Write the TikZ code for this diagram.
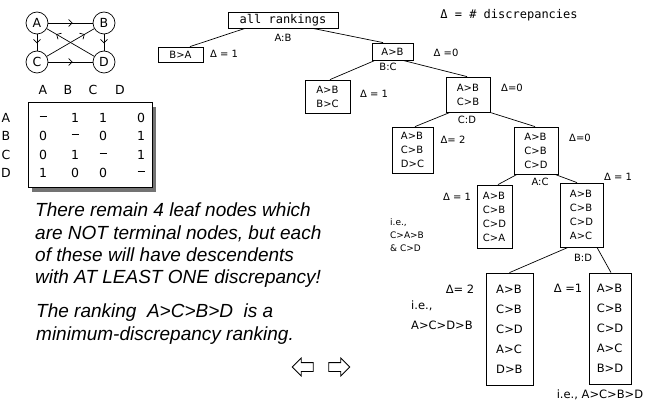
\documentclass[tikz,border=0pt]{standalone}
\usepackage{fontspec}
\setmainfont{DejaVu Sans}
\newfontfamily\notefont{Liberation Sans}
\newfontfamily\plainmono{DejaVu Sans Mono}
\usetikzlibrary{arrows.meta,calc,decorations.markings,shadows,shapes.arrows}
\newcommand{\boxsize}{\fontsize{10}{14}\selectfont}
\newcommand{\leafsize}{\fontsize{11.5}{20}\selectfont}
\newcommand{\cellsize}{\fontsize{12.5}{12.5}\selectfont}
\newcommand{\notesize}{\fontsize{19}{22.3}\selectfont}
\newcommand{\monosize}{\plainmono\fontsize{12}{12}\selectfont}
\newcommand{\nodash}{\rule[3.5pt]{7pt}{.9pt}}
\tikzset{
 every node/.append style={font=\boxsize,inner sep=1pt},
 rank/.style={draw,fill=white,line width=.8pt,align=left,inner sep=2pt},
 leaf/.style={rank,font=\leafsize},
 word/.style={inner sep=1pt},
 big/.style={font=\leafsize},
 cell/.style={font=\cellsize},
 branch/.style={line width=.7pt},
 vertex/.style={draw,circle,minimum size=22pt,inner sep=0pt,font=\fontsize{12.5}{12.5}\selectfont,line width=.7pt},
 toward/.style={line width=.7pt,postaction={decorate},decoration={markings,mark=at position #1 with {\arrow{Straight Barb[length=3.5pt,width=7pt]}}}},
 toward/.default=.55,
 note/.style={font=\notefont\itshape\notesize,align=left,anchor=north west,inner sep=0pt},
 nav/.style={draw,single arrow,line width=.8pt,minimum height=21pt,single arrow head extend=4.5pt,inner sep=4pt},
}

\begin{document}
\begin{tikzpicture}[x=1pt,y=-1pt]

\useasboundingbox (0,0) rectangle (655,406);
% small tournament
\node[vertex] (va) at (37,23) {A};
\node[vertex] (vb) at (104,23) {B};
\node[vertex] (vc) at (37,62) {C};
\node[vertex] (vd) at (104,62) {D};
\draw[toward] (va) -- (vb); \draw[toward] (va) -- (vc);
\draw[toward] (vb) -- (vd); \draw[toward] (vc) -- (vd);
\draw[toward=.8] (vc) -- (vb); \draw[toward=.8] (vd) -- (va);

% discrepancy matrix
\node[draw,fill=white,line width=.8pt,minimum width=124pt,minimum height=85pt,drop shadow={shadow xshift=4pt,shadow yshift=-5pt,fill=black!55,opacity=1}] (grid) at (90,144.5) {};
\node[cell] (ha) at (43,90) {A}; \node[cell] (hb) at (68,90) {B}; \node[cell] (hc) at (93,90) {C}; \node[cell] (hd) at (120,90) {D};
\node[cell] (ra) at (6,118) {A}; \node[cell] (rb) at (6,136) {B}; \node[cell] (rc) at (6,155) {C}; \node[cell] (rd) at (6,173) {D};
\node[cell] (aa) at (43,118) {\nodash}; \node[cell] (ab) at (75,118) {1}; \node[cell] (ac) at (103,118) {1}; \node[cell] (ad) at (141,118) {0};
\node[cell] (ba) at (43,136) {0}; \node[cell] (bb) at (75,136) {\nodash}; \node[cell] (bc) at (103,136) {0}; \node[cell] (bd) at (141,136) {1};
\node[cell] (ca) at (43,155) {0}; \node[cell] (cb) at (75,155) {1}; \node[cell] (cc) at (103,155) {\nodash}; \node[cell] (cd) at (141,155) {1};
\node[cell] (da) at (43,173) {1}; \node[cell] (db) at (75,173) {0}; \node[cell] (dc) at (103,173) {0}; \node[cell] (dd) at (141,173) {\nodash};

\node[note] (remain) at (35,203) {There remain 4 leaf nodes which\\are NOT terminal nodes, but each\\of these will have descendents\\with AT LEAST ONE discrepancy!};
\node[note] (minimum) at (36,304) {The ranking\ \ A>C>B>D\ \ is a\\minimum-discrepancy ranking.};
\node[nav,shape border rotate=180] (back) at (305,367) {};
\node[nav] (fwd) at (337,367) {};

% search tree
\node[word,font=\monosize] (legend) at (509,15) {Δ = \# discrepancies};
\node[rank,font=\monosize,minimum width=110pt,minimum height=16pt] (all) at (283,20) {all rankings};
\node[rank,minimum width=45pt,minimum height=15pt] (tba) at (180.5,54.5) {B>A};
\node[rank,minimum width=41pt,minimum height=17pt] (tab) at (392.5,51.5) {A>B};
\node[rank,minimum width=45pt,minimum height=33pt] (tbc) at (327.5,96.5) {A>B\\B>C};
\node[rank,minimum width=44pt,minimum height=35pt] (tcb) at (468,94.5) {A>B\\C>B};
\node[rank,minimum width=41pt,minimum height=46pt] (tdc) at (412.5,150) {A>B\\C>B\\D>C};
\node[rank,minimum width=44pt,minimum height=47pt] (tcd) at (536,150.5) {A>B\\C>B\\C>D};
\node[rank,minimum width=35pt,minimum height=63pt] (tca) at (494.5,216.5) {A>B\\C>B\\C>D\\C>A};
\node[rank,minimum width=43pt,minimum height=64pt] (tac) at (581.5,215) {A>B\\C>B\\C>D\\A>C};
\node[leaf,minimum width=47pt,minimum height=112pt] (tdb) at (509.5,329) {A>B\\C>B\\C>D\\A>C\\D>B};
\node[leaf,minimum width=42pt,minimum height=111pt] (tbd) at (610,328.5) {A>B\\C>B\\C>D\\A>C\\B>D};

\draw[branch] ($(all.south)+(-38,0)$) -- ($(tba.north)+(9.5,0)$);
\draw[branch] ($(all.south)+(30,0)$) -- ($(tab.north)+(-9.5,0)$);
\draw[branch] ($(tab.south)+(-17.5,0)$) -- ($(tbc.north)+(2.5,0)$);
\draw[branch] ($(tab.south)+(10.5,0)$) -- ($(tcb.north)+(-1,0)$);
\draw[branch] ($(tcb.south)+(-18,0)$) -- ($(tdc.north)+(2.5,0)$);
\draw[branch] ($(tcb.south)+(22,0)$) -- ($(tcd.north)+(-1,0)$);
\draw[branch] ($(tcd.south)+(-19,0)$) -- ($(tca.north)+(3.5,0)$);
\draw[branch] ($(tcd.south)+(19,0)$) -- ($(tac.north)+(-4.5,0)$);
\draw[branch] ($(tac.south)+(-13.5,0)$) -- (tdb.north);
\draw[branch] ($(tac.south)+(15.5,0)$) -- ($(tbd.north)+(1,0)$);

\node[word] (sab) at (283,38) {A:B};
\node[word] (sbc) at (388,67) {B:C};
\node[word] (scd) at (467,120) {C:D};
\node[word] (sac) at (540,182) {A:C};
\node[word] (sbd) at (583,258) {B:D};

\node[word] (dba) at (224,54) {Δ = 1};
\node[word] (dab) at (446,53) {Δ =0};
\node[word] (dbc) at (374,94) {Δ = 1};
\node[word] (dcb) at (512,88) {Δ=0};
\node[word] (ddc) at (453,140) {Δ= 2};
\node[word] (dcd) at (580,138) {Δ=0};
\node[word] (dac) at (618,177) {Δ = 1};
\node[word] (dca) at (457,197) {Δ = 1};
\node[word,align=left,anchor=west,font=\fontsize{9}{13}\selectfont] (ica) at (389,235) {i.e.,\\C>A>B\\\& C>D};
\node[word,big] (ddb) at (460,289) {Δ= 2};
\node[word,big,align=left,anchor=west] (idb) at (410,315.5) {i.e.,\\A>C>D>B};
\node[word,big] (dbd) at (568,288) {Δ =1};
\node[word,big] (ibd) at (600,395) {i.e., A>C>B>D};

\end{tikzpicture}
\end{document}
